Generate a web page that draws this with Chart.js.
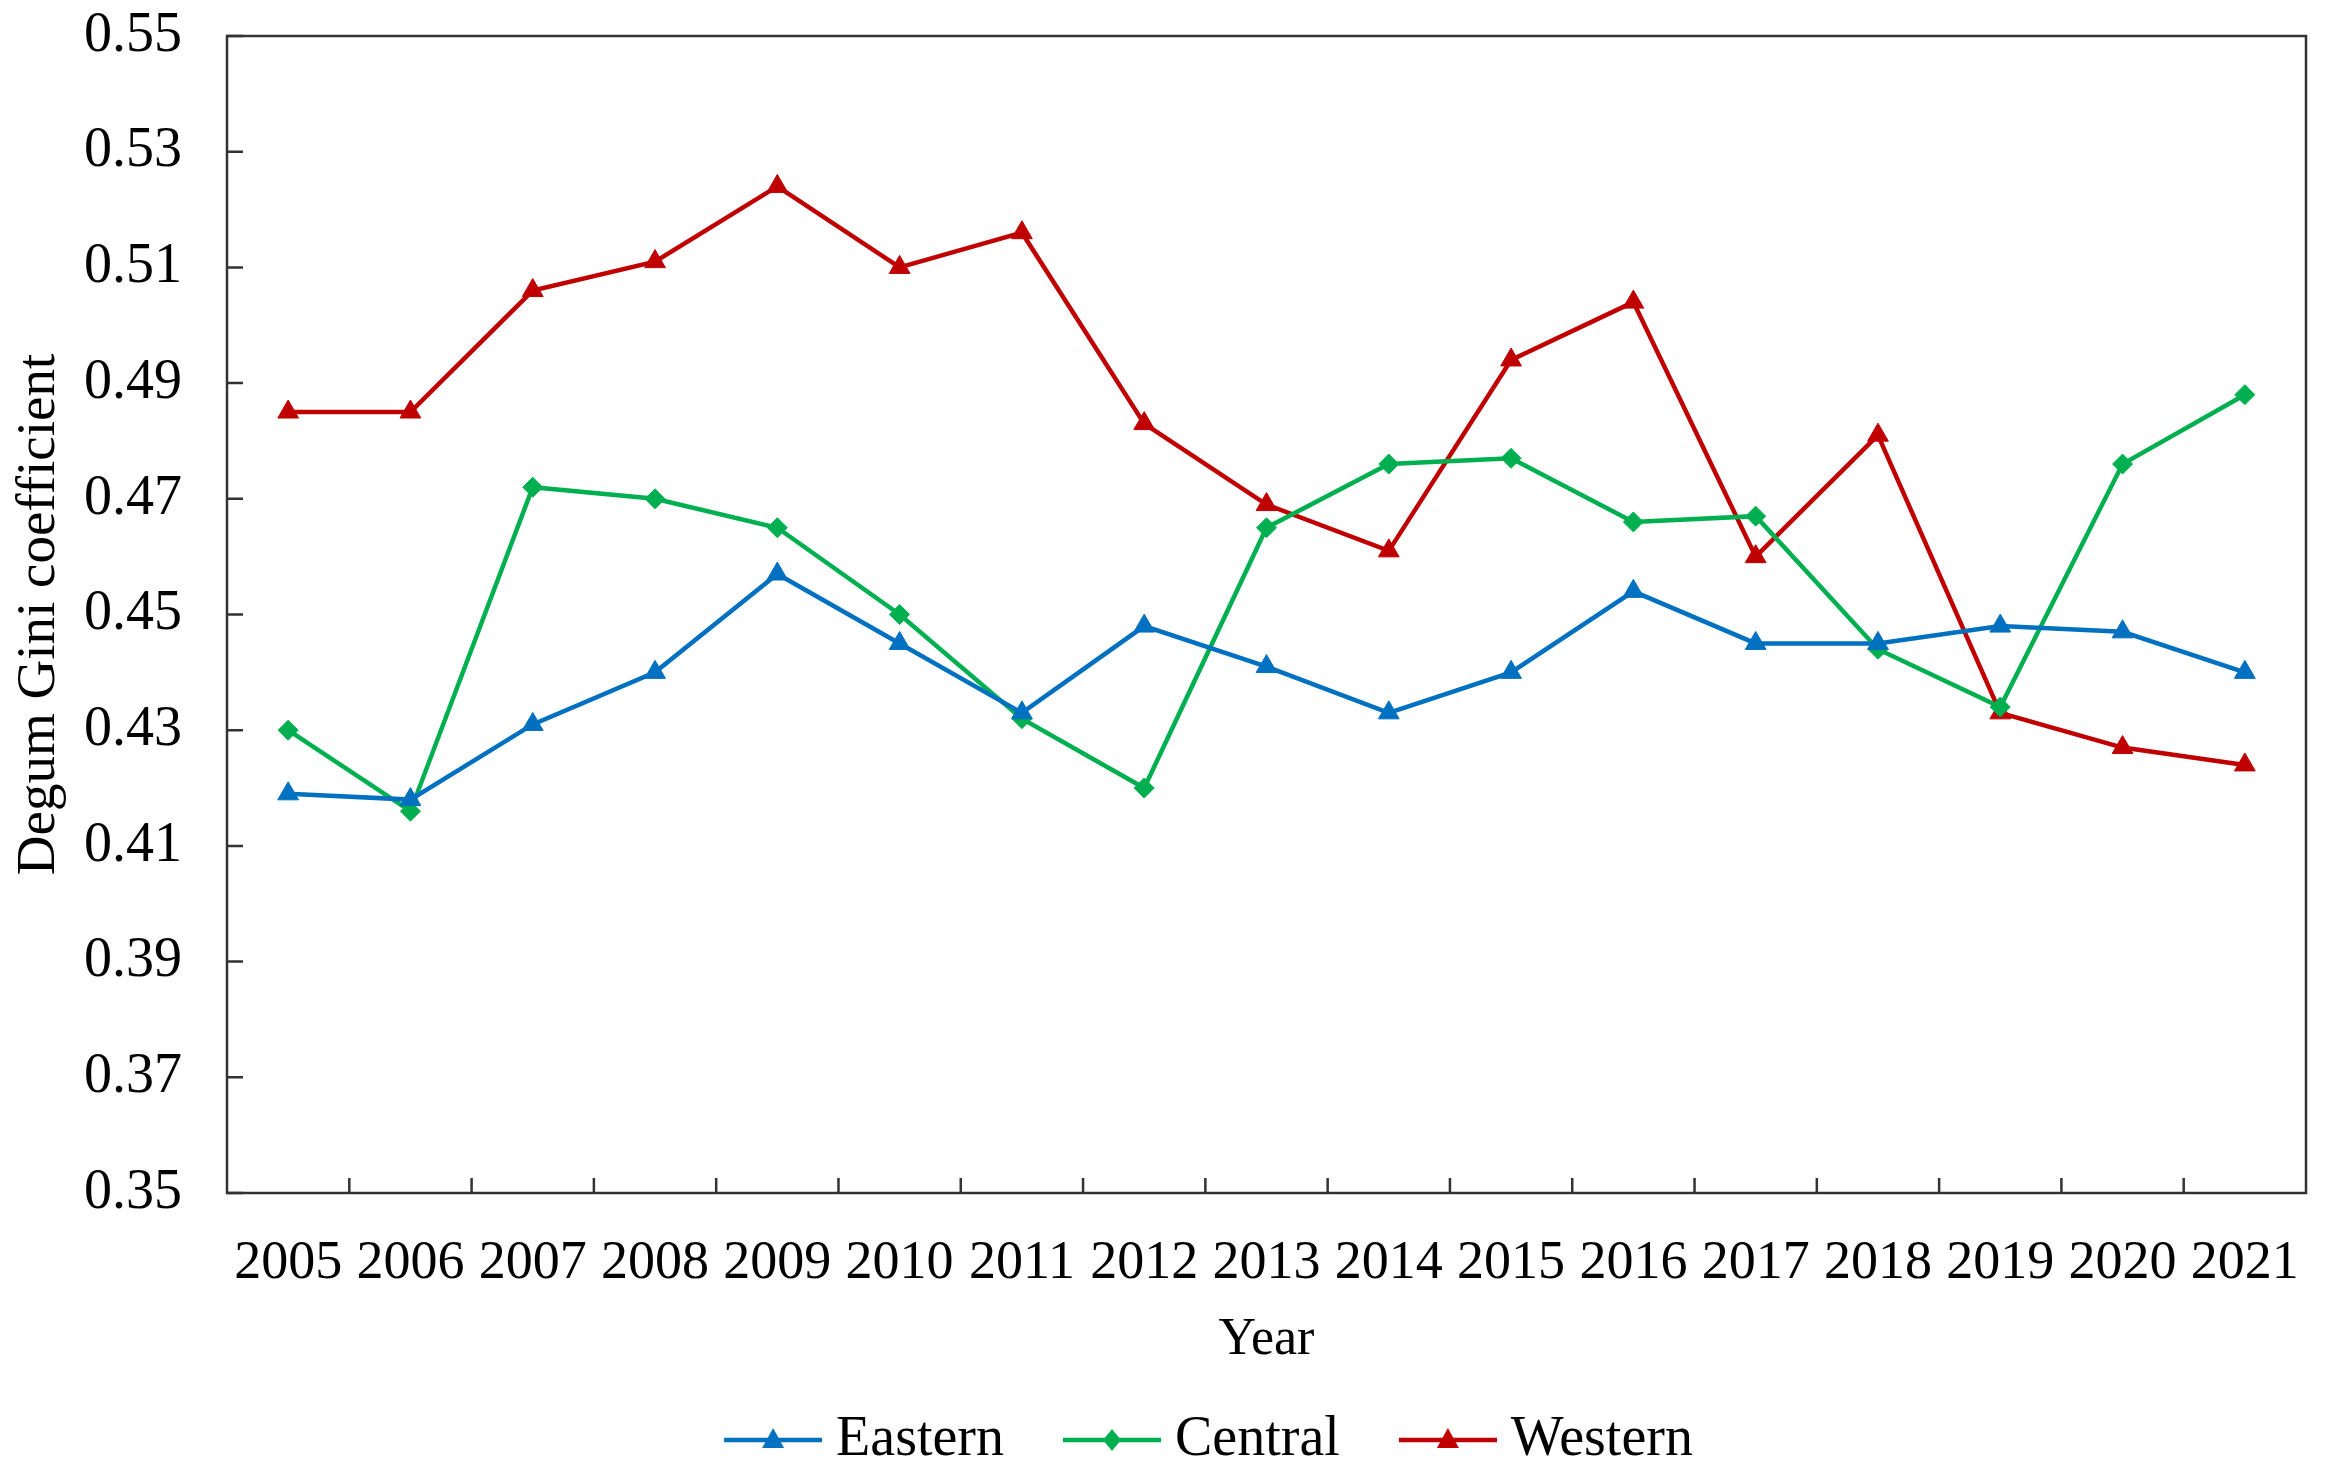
<!DOCTYPE html>
<html>
<head>
<meta charset="utf-8">
<script src="https://cdn.jsdelivr.net/npm/chart.js@4.4.1/dist/chart.umd.min.js"></script>
<style>
  html, body { margin: 0; padding: 0; background: #fff; }
  #wrap { width: 2328px; height: 1478px; }
</style>
</head>
<body>
<div id="wrap"><canvas id="chart" width="2328" height="1478"></canvas></div>
<script>
const years = ['2005', '2006', '2007', '2008', '2009', '2010', '2011', '2012', '2013',
    '2014', '2015', '2016', '2017', '2018', '2019', '2020', '2021']

const eastern = [0.419, 0.418, 0.431, 0.440, 0.457, 0.445, 0.433, 0.448, 0.441,
    0.433, 0.440, 0.454, 0.445, 0.445, 0.448, 0.447, 0.440]
const central = [0.430, 0.416, 0.472, 0.470, 0.465, 0.450, 0.432, 0.420, 0.465,
    0.476, 0.477, 0.466, 0.467, 0.444, 0.434, 0.476, 0.488]
const western = [0.485, 0.485, 0.506, 0.511, 0.524, 0.510, 0.516, 0.483, 0.469,
    0.461, 0.494, 0.504, 0.460, 0.481, 0.433, 0.427, 0.424]

const yTicks = [0.35, 0.37, 0.39, 0.41, 0.43, 0.45, 0.47, 0.49, 0.51, 0.53, 0.55]

const BLUE = '#0070C0'
const GREEN = '#00B050'
const RED = '#C00000'
const FONT = "'Liberation Serif', 'Times New Roman', serif"
const AXIS = '#333333'

// legend picture: empty gap on the left (spacing between items), then line + marker
const ICON_GAP = 67
const makeIcon = (color, shape) => {
    const c = document.createElement('canvas')
    c.width = ICON_GAP + 98
    c.height = 28
    const g = c.getContext('2d')
    const cx = ICON_GAP + 49
    g.strokeStyle = color
    g.fillStyle = color
    g.lineWidth = 4.5
    g.beginPath()
    g.moveTo(ICON_GAP, 14)
    g.lineTo(ICON_GAP + 98, 14)
    g.stroke()
    g.beginPath()
    if (shape === 'triangle') {
        g.moveTo(cx, 2)
        g.lineTo(cx + 11, 22)
        g.lineTo(cx - 11, 22)
    } else {
        g.moveTo(cx, 3)
        g.lineTo(cx + 9, 14)
        g.lineTo(cx, 25)
        g.lineTo(cx - 9, 14)
    }
    g.closePath()
    g.fill()
    return c
}
const legendIcons = [makeIcon(BLUE, 'triangle'), makeIcon(GREEN, 'diamond'), makeIcon(RED, 'triangle')]

// box round the plot and the inward tick marks
const framePlugin = {
    id: 'frame',
    afterLayout(chart) {
        // nudge the legend a bit to the right, like the original
        const lg = chart.legend
        if (lg) {
            lg.left += 29
            lg.right += 29
        }
    },
    afterDraw(chart) {
        const { ctx, chartArea: a, scales: { x, y } } = chart
        ctx.save()
        ctx.strokeStyle = AXIS
        ctx.lineWidth = 2.5
        ctx.strokeRect(a.left, a.top, a.right - a.left, a.bottom - a.top)
        ctx.beginPath()
        yTicks.forEach(v => {
            const py = y.getPixelForValue(v)
            ctx.moveTo(a.left, py)
            ctx.lineTo(a.left + 16, py)
        })
        for (let i = 1; i < years.length; i++) {
            const px = (x.getPixelForValue(i - 1) + x.getPixelForValue(i)) / 2
            ctx.moveTo(px, a.bottom)
            ctx.lineTo(px, a.bottom - 15)
        }
        ctx.stroke()
        ctx.restore()
    }
}

const mkSet = (label, data, color, style, radius) => ({
    label: label,
    data: data,
    borderColor: color,
    backgroundColor: color,
    borderWidth: 4.5,
    pointStyle: style,
    pointRadius: radius,
    pointHoverRadius: radius,
    pointBorderWidth: 1,
    pointBackgroundColor: color,
    pointBorderColor: color,
    tension: 0,
    fill: false
})

const chart = new Chart(document.getElementById('chart'), {
    type: 'line',
    data: {
        labels: years,
        datasets: [
            mkSet('Eastern', eastern, BLUE, 'triangle', 12),
            mkSet('Central', central, GREEN, 'rectRot', 10),
            mkSet('Western', western, RED, 'triangle', 12)
        ]
    },
    options: {
        responsive: false,
        animation: false,
        devicePixelRatio: 1,
        layout: {
            padding: { left: 0, right: 22, top: 36, bottom: 0 }
        },
        plugins: {
            tooltip: { enabled: false },
            legend: {
                display: true,
                position: 'bottom',
                labels: {
                    usePointStyle: true,
                    pointStyleWidth: ICON_GAP + 98 - 28,
                    color: '#000',
                    padding: 6,
                    font: { family: FONT, size: 56 },
                    generateLabels: (chart) => {
                        const items = Chart.defaults.plugins.legend.labels.generateLabels(chart)
                        items.forEach((it, i) => {
                            it.pointStyle = legendIcons[i]
                            it.lineWidth = 0
                        })
                        return items
                    }
                }
            }
        },
        scales: {
            x: {
                type: 'category',
                offset: true,
                grid: { display: false, drawTicks: false, offset: true },
                border: { display: false },
                ticks: {
                    color: '#000',
                    padding: 38,
                    maxRotation: 0,
                    autoSkip: false,
                    font: { family: FONT, size: 54 }
                },
                title: {
                    display: true,
                    text: 'Year',
                    color: '#000',
                    padding: { top: 0, bottom: 34 },
                    font: { family: FONT, size: 52 }
                },
                afterFit: (scale) => {
                    scale.height = 213
                    scale.paddingLeft = 0
                    scale.paddingRight = 0
                }
            },
            y: {
                min: 0.35,
                max: 0.55,
                afterBuildTicks: (scale) => {
                    scale.ticks = yTicks.map(v => ({ value: v }))
                },
                grid: { display: false, drawTicks: false },
                border: { display: false },
                ticks: {
                    color: '#000',
                    padding: 45,
                    font: { family: FONT, size: 56 },
                    callback: (v) => Number(v).toFixed(2)
                },
                title: {
                    display: true,
                    text: 'Degum Gini coefficient',
                    color: '#000',
                    padding: { top: 7, bottom: 12 },
                    font: { family: FONT, size: 55 }
                },
                afterFit: (scale) => {
                    scale.width = 227
                    scale.paddingTop = 0
                    scale.paddingBottom = 0
                }
            }
        }
    },
    plugins: [framePlugin]
})
</script>
</body>
</html>
